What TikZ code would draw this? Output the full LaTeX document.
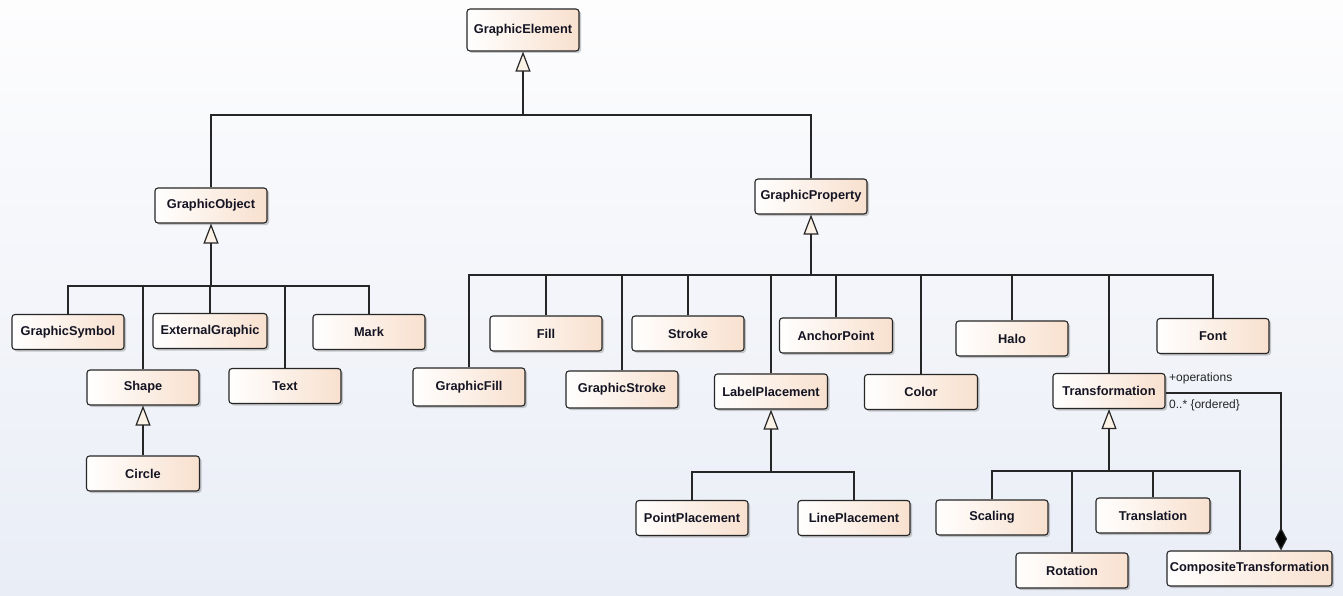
\documentclass[tikz,border=0pt]{standalone}
\usepackage{fontspec}
\setmainfont{Liberation Sans}
\usetikzlibrary{arrows.meta,shadows,calc}
\definecolor{peach}{RGB}{248,224,206}
\definecolor{trifill}{RGB}{252,242,230}
\definecolor{bgtop}{RGB}{253,253,254}
\definecolor{bgbot}{RGB}{233,237,246}
\definecolor{textc}{RGB}{20,20,35}
\begin{document}
\begin{tikzpicture}[x=1pt,y=-1pt,
  cls/.style={draw=black!85, line width=1.1pt, rounded corners=3pt,
    left color=white, right color=peach,
    drop shadow={shadow xshift=2pt, shadow yshift=-2pt, fill=black!45, opacity=0.45},
    minimum width=112pt, minimum height=35pt, inner sep=0pt,
    font=\bfseries\fontsize{12.8}{15}\selectfont, text=textc},
  conn/.style={draw=black!85, line width=1.2pt},
  gen/.style={conn, -{Triangle[length=20pt,width=15pt,fill=trifill]}},
  comp/.style={conn, -{Diamond[length=23pt,width=12pt,fill=black]}},
  rolelbl/.style={font=\fontsize{12}{14}\selectfont, text=black!85, inner sep=0pt, anchor=west}]
\useasboundingbox (0,0) rectangle (1343,596);
\fill[top color=bgtop, bottom color=bgbot] (0,0) rectangle (1343,596);

% nodes
\node[cls, minimum height=42pt] (GE) at (523,30) {GraphicElement};
\node[cls] (GO) at (211,205.5) {GraphicObject};
\node[cls] (GP) at (811,196.5) {GraphicProperty};

\node[cls] (GSym) at (68,332) {GraphicSymbol};
\node[cls, minimum width=114pt] (EG) at (210,331) {ExternalGraphic};
\node[cls] (Mark) at (369,332) {Mark};
\node[cls] (Shape) at (143,387.5) {Shape};
\node[cls] (Text) at (285,386) {Text};
\node[cls, minimum width=113pt] (Circle) at (143,473.5) {Circle};

\node[cls, minimum height=38pt] (GFill) at (469,387) {GraphicFill};
\node[cls] (Fill) at (546,333.5) {Fill};
\node[cls, minimum height=37pt] (GStroke) at (622,389.5) {GraphicStroke};
\node[cls] (Stroke) at (688,333.5) {Stroke};
\node[cls, minimum width=113pt] (LP) at (771,391.5) {LabelPlacement};
\node[cls, minimum width=113pt] (AP) at (836,335.5) {AnchorPoint};
\node[cls, minimum width=113pt] (Color) at (921,392) {Color};
\node[cls] (Halo) at (1012,338.5) {Halo};
\node[cls] (Tr) at (1109,391) {Transformation};
\node[cls] (Font) at (1213,336) {Font};

\node[cls] (PP) at (692,518) {PointPlacement};
\node[cls] (LnP) at (854,518) {LinePlacement};

\node[cls] (Scaling) at (992,517.5) {Scaling};
\node[cls, minimum width=114pt] (Translation) at (1153,515.5) {Translation};
\node[cls] (Rotation) at (1072,570.5) {Rotation};
\node[cls, minimum width=165pt] (CT) at (1249.5,568.5) {CompositeTransformation};

% junction coordinates
\coordinate (jTop) at (523,115);
\coordinate (jGO) at (211,286);
\coordinate (jGP) at (811,275);
\coordinate (jLP) at (771,472);
\coordinate (jTr) at (1109,471);
\coordinate (ctx) at (1240,0);
\coordinate (dx) at (1281,0);

% generalization: GraphicElement
\draw[gen] (jTop) -- (GE.south);
\draw[conn] (GO.north) |- (jTop);
\draw[conn] (GP.north) |- (jTop);

% GraphicObject
\draw[gen] (jGO) -- (GO.south);
\foreach \n in {GSym,EG,Mark,Shape,Text} \draw[conn] (\n.north) |- (jGO);
\draw[gen] (Circle.north) -- (Shape.south);

% GraphicProperty
\draw[gen] (jGP) -- (GP.south);
\foreach \n in {GFill,Fill,GStroke,Stroke,LP,AP,Color,Halo,Tr,Font} \draw[conn] (\n.north) |- (jGP);

% LabelPlacement
\draw[gen] (jLP) -- (LP.south);
\foreach \n in {PP,LnP} \draw[conn] (\n.north) |- (jLP);

% Transformation
\draw[gen] (jTr) -- (Tr.south);
\foreach \n in {Scaling,Translation,Rotation} \draw[conn] (\n.north) |- (jTr);
\draw[conn] (CT.north -| ctx) |- (jTr);

% composition
\draw[comp] ($(Tr.east)+(0,2)$) -| (CT.north -| dx);
\node[rolelbl] (ops) at (1169,378) {+operations};
\node[rolelbl] (mult) at (1169,405) {0..* \{ordered\}};
\end{tikzpicture}
\end{document}
